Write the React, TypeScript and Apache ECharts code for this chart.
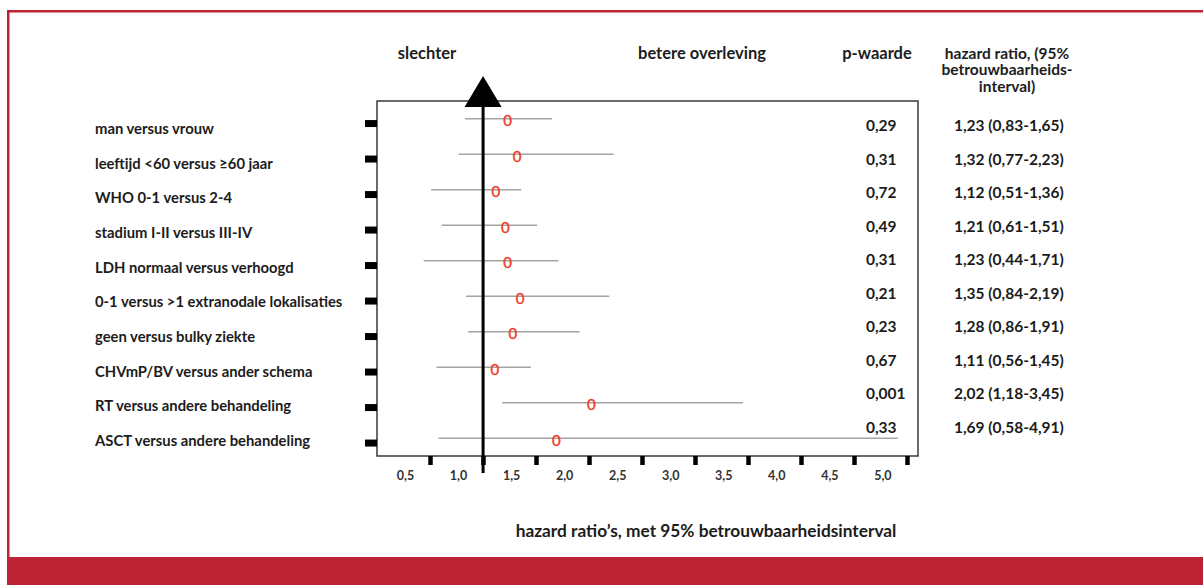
import React, { useEffect, useRef } from "react";
import * as echarts from "echarts";

// Forest plot: hazard ratios with 95% confidence intervals per prognostic factor
const categories = [
  "man versus vrouw",
  "leeftijd <60 versus ≥60 jaar",
  "WHO 0-1 versus 2-4",
  "stadium I-II versus III-IV",
  "LDH normaal versus verhoogd",
  "0-1 versus >1 extranodale lokalisaties",
  "geen versus bulky ziekte",
  "CHVmP/BV versus ander schema",
  "RT versus andere behandeling",
  "ASCT versus andere behandeling",
];
const hazardRatios = [1.23, 1.32, 1.12, 1.21, 1.23, 1.35, 1.28, 1.11, 2.02, 1.69];
const ciLower = [0.83, 0.77, 0.51, 0.61, 0.44, 0.84, 0.86, 0.56, 1.18, 0.58];
const ciUpper = [1.65, 2.23, 1.36, 1.51, 1.71, 2.19, 1.91, 1.45, 3.45, 4.91];
const pValues = [0.29, 0.31, 0.72, 0.49, 0.31, 0.21, 0.23, 0.67, 0.001, 0.33];
const xTicks = [0.5, 1.0, 1.5, 2.0, 2.5, 3.0, 3.5, 4.0, 4.5, 5.0];
const referenceValue = 1.0;

const FONT = "Lato";
const TEXT = "#1c1c1c";
const RED = "#bd2335";

const comma = (s: string) => s.replace(".", ",");
const fmt2 = (v: number) => comma(v.toFixed(2));
const fmtP = (v: number) => comma(String(v));

const headerStyle = (text: string, fontSize: number) => ({
  text,
  align: "center",
  verticalAlign: "middle",
  fill: TEXT,
  fontFamily: FONT,
  fontWeight: "bold",
  fontSize,
});

export default function App() {
  const ref = useRef<HTMLDivElement>(null);

  useEffect(() => {
    if (!ref.current) return;
    const chart = echarts.init(ref.current, null, { renderer: "svg" });

    const option: any = {
      animation: false,
      backgroundColor: "#fff",
      grid: [
        // plot box
        {
          left: 377,
          top: 101,
          width: 541,
          height: 355,
          show: true,
          borderColor: "#3a3a3a",
          borderWidth: 1.5,
          backgroundColor: "transparent",
        },
        // table rows (p-waarde, hazard ratio)
        { left: 377, top: 108.5, width: 541, height: 335, show: false },
        // row labels
        { left: 377, top: 110.7, width: 541, height: 346.7, show: false },
      ],
      xAxis: [
        {
          gridIndex: 0,
          type: "value",
          min: 0,
          max: 5.1,
          axisLine: { show: false },
          splitLine: { show: false },
          axisTick: {
            show: true,
            customValues: xTicks,
            length: 9,
            lineStyle: { color: "#000", width: 4.5 },
          },
          axisLabel: {
            show: true,
            customValues: xTicks,
            formatter: (v: number) => comma(v.toFixed(1)),
            fontFamily: FONT,
            fontWeight: "bold",
            fontSize: 12.5,
            color: "#333",
            margin: 13,
            align: "center",
            padding: [0, 49, 0, 0],
          },
        },
        { gridIndex: 1, type: "value", min: 0, max: 1, show: false },
        { gridIndex: 2, type: "value", min: 0, max: 1, show: false },
      ],
      yAxis: [
        {
          gridIndex: 0,
          type: "category",
          inverse: true,
          data: categories,
          axisLine: { show: false },
          axisTick: { show: false },
          axisLabel: { show: false },
          splitLine: { show: false },
        },
        {
          gridIndex: 1,
          type: "category",
          inverse: true,
          data: categories,
          axisLine: { show: false },
          axisTick: { show: false },
          axisLabel: { show: false },
          splitLine: { show: false },
        },
        {
          gridIndex: 2,
          type: "category",
          inverse: true,
          data: categories,
          axisLine: { show: false },
          axisTick: { show: false },
          splitLine: { show: false },
          axisLabel: {
            show: true,
            interval: 0,
            align: "left",
            margin: 282,
            fontFamily: FONT,
            fontWeight: "bold",
            fontSize: 14.8,
            color: TEXT,
          },
        },
      ],
      series: [
        // confidence intervals and the row ticks on the left edge
        {
          type: "custom",
          xAxisIndex: 0,
          yAxisIndex: 0,
          clip: false,
          z: 2,
          encode: { x: [0, 2, 3], y: 1 },
          data: hazardRatios.map((hr, i) => [hr, i, ciLower[i], ciUpper[i]]),
          renderItem: (params: any, api: any) => {
            const row = api.value(1);
            const lo = api.coord([api.value(2), row]);
            const hi = api.coord([api.value(3), row]);
            const cs = params.coordSys;
            return {
              type: "group",
              children: [
                {
                  type: "line",
                  shape: { x1: lo[0], y1: lo[1], x2: hi[0], y2: hi[1] },
                  style: { stroke: "#a3a3a3", lineWidth: 1.6 },
                },
                {
                  type: "rect",
                  shape: { x: cs.x - 12, y: lo[1] + 1.3, width: 12, height: 7 },
                  style: { fill: "#000" },
                },
              ],
            };
          },
        },
        // reference line at HR = 1 with arrow head
        {
          type: "custom",
          xAxisIndex: 0,
          yAxisIndex: 0,
          clip: false,
          z: 3,
          encode: { x: 0, y: 1 },
          data: [[referenceValue, 0]],
          renderItem: (params: any, api: any) => {
            const p = api.coord([api.value(0), 0]);
            const cs = params.coordSys;
            const x = p[0];
            const top = cs.y;
            const bottom = cs.y + cs.height;
            return {
              type: "group",
              children: [
                {
                  type: "line",
                  shape: { x1: x, y1: top + 4, x2: x, y2: bottom + 17 },
                  style: { stroke: "#000", lineWidth: 3 },
                },
                {
                  type: "polygon",
                  shape: {
                    points: [
                      [x - 18.5, top + 6],
                      [x + 18.5, top + 6],
                      [x, top - 25],
                    ],
                  },
                  style: { fill: "#000" },
                },
              ],
            };
          },
        },
        // point estimates
        {
          type: "custom",
          xAxisIndex: 0,
          yAxisIndex: 0,
          clip: false,
          z: 4,
          encode: { x: 0, y: 1 },
          data: hazardRatios.map((hr, i) => [hr, i]),
          renderItem: (params: any, api: any) => {
            const p = api.coord([api.value(0), api.value(1)]);
            return {
              type: "text",
              x: p[0],
              y: p[1] + 1.5,
              style: {
                text: "0",
                align: "center",
                verticalAlign: "middle",
                fill: "#f03a25",
                stroke: "#f03a25",
                lineWidth: 0.4,
                fontFamily: FONT,
                fontSize: 15,
              },
            };
          },
        },
        // p-values and hazard ratio (95% CI) columns
        {
          type: "custom",
          xAxisIndex: 1,
          yAxisIndex: 1,
          clip: false,
          encode: { x: 0, y: 1 },
          data: pValues.map((_, i) => [0, i]),
          renderItem: (params: any, api: any) => {
            const i = params.dataIndex;
            const p = api.coord([0, api.value(1)]);
            const cs = params.coordSys;
            const right = cs.x + cs.width;
            const base = {
              verticalAlign: "middle",
              fill: TEXT,
              fontFamily: FONT,
              fontWeight: "bold",
              fontSize: 15.5,
            };
            return {
              type: "group",
              children: [
                {
                  type: "text",
                  x: right - 52,
                  y: p[1],
                  style: { ...base, text: fmtP(pValues[i]), align: "left" },
                },
                {
                  type: "text",
                  x: right + 36,
                  y: p[1],
                  style: {
                    ...base,
                    text: `${fmt2(hazardRatios[i])} (${fmt2(ciLower[i])}-${fmt2(ciUpper[i])})`,
                    align: "left",
                  },
                },
              ],
            };
          },
        },
      ],
      graphic: [
        // frame
        { type: "rect", shape: { x: 7, y: 10, width: 1196, height: 2.5 }, style: { fill: RED } },
        { type: "rect", shape: { x: 7, y: 10, width: 2.5, height: 548 }, style: { fill: RED } },
        { type: "rect", shape: { x: 7, y: 557, width: 1196, height: 28 }, style: { fill: RED } },
        // column headers
        { type: "text", x: 427, y: 53, style: headerStyle("slechter", 16.5) },
        { type: "text", x: 702, y: 53, style: headerStyle("betere overleving", 16.5) },
        { type: "text", x: 877, y: 53, style: headerStyle("p-waarde", 16.5) },
        {
          type: "text",
          x: 1007,
          y: 44.5,
          style: {
            ...headerStyle("hazard ratio, (95%\nbetrouwbaarheids-\ninterval)", 15.5),
            verticalAlign: "top",
            lineHeight: 16.5,
          },
        },
        // x axis title
        {
          type: "text",
          x: 706,
          y: 530,
          style: headerStyle("hazard ratio’s, met 95% betrouwbaarheidsinterval", 17.3),
        },
      ],
    };

    chart.setOption(option);
    return () => chart.dispose();
  }, []);

  return (
    <div
      ref={ref}
      style={{ position: "fixed", left: 0, top: 0, width: 1203, height: 585, background: "#fff" }}
    />
  );
}
